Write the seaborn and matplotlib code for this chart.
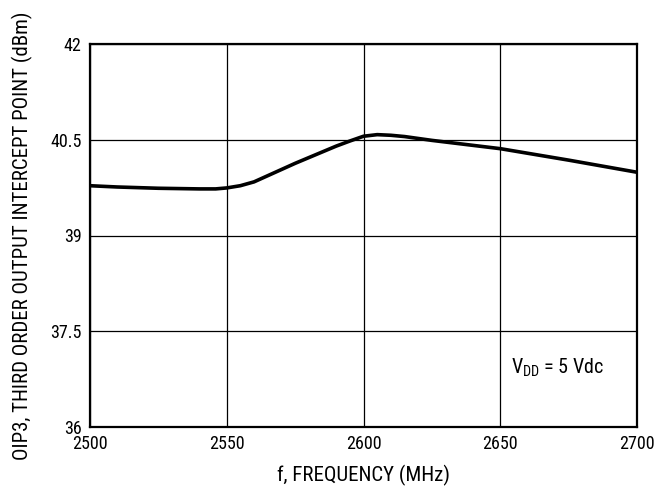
import matplotlib
matplotlib.use("Agg")
import matplotlib.pyplot as plt
import seaborn as sns
import pandas as pd

freq = [2500, 2510, 2525, 2540, 2546, 2550, 2555, 2560, 2575, 2590, 2595, 2600, 2605, 2610, 2615, 2625, 2650, 2675, 2700]
oip3 = [39.78, 39.76, 39.74, 39.73, 39.73, 39.745, 39.78, 39.84, 40.13, 40.40, 40.48, 40.555, 40.58, 40.57, 40.55, 40.49, 40.36, 40.18, 39.99]
xticks = [2500, 2550, 2600, 2650, 2700]
yticks = [36, 37.5, 39, 40.5, 42]
ytick_labels = ["36", "37.5", "39", "40.5", "42"]

sns.set_style("white")
plt.rcParams['font.family'] = ['Roboto Condensed', 'Archivo Narrow', 'DejaVu Sans']
plt.rcParams['text.color'] = 'black'
plt.rcParams['xtick.color'] = 'black'
plt.rcParams['ytick.color'] = 'black'
plt.rcParams['axes.labelcolor'] = 'black'
plt.rcParams['mathtext.fontset'] = 'custom'
plt.rcParams['mathtext.rm'] = 'Roboto Condensed'

df = pd.DataFrame({"f": freq, "oip3": oip3})

fig = plt.figure(figsize=(6.55, 5.0), dpi=100)
ax = fig.add_axes([0.137, 0.146, 0.836, 0.766])
sns.lineplot(data=df, x="f", y="oip3", ax=ax, color="black", linewidth=2.6)

ax.set_xlim(2500, 2700)
ax.set_ylim(36, 42)
ax.set_xticks(xticks)
ax.set_xticklabels([str(x) for x in xticks])
ax.set_yticks(yticks)
ax.set_yticklabels(ytick_labels)
ax.grid(True, color="black", linewidth=0.9)
ax.tick_params(axis="both", length=0, labelsize=13, pad=6)
for s in ax.spines.values():
    s.set_color("black")
    s.set_linewidth(1.6)
ax.set_xlabel("f, FREQUENCY (MHz)", fontsize=15, labelpad=8)
ax.set_ylabel("OIP3, THIRD ORDER OUTPUT INTERCEPT POINT (dBm)", fontsize=15, labelpad=12)
ax.text(2688, 36.92, "V$_{\\mathregular{DD}}$ = 5 Vdc", fontsize=14.5, ha="right", va="center")

fig.savefig("out.png", dpi=100, facecolor="white")
